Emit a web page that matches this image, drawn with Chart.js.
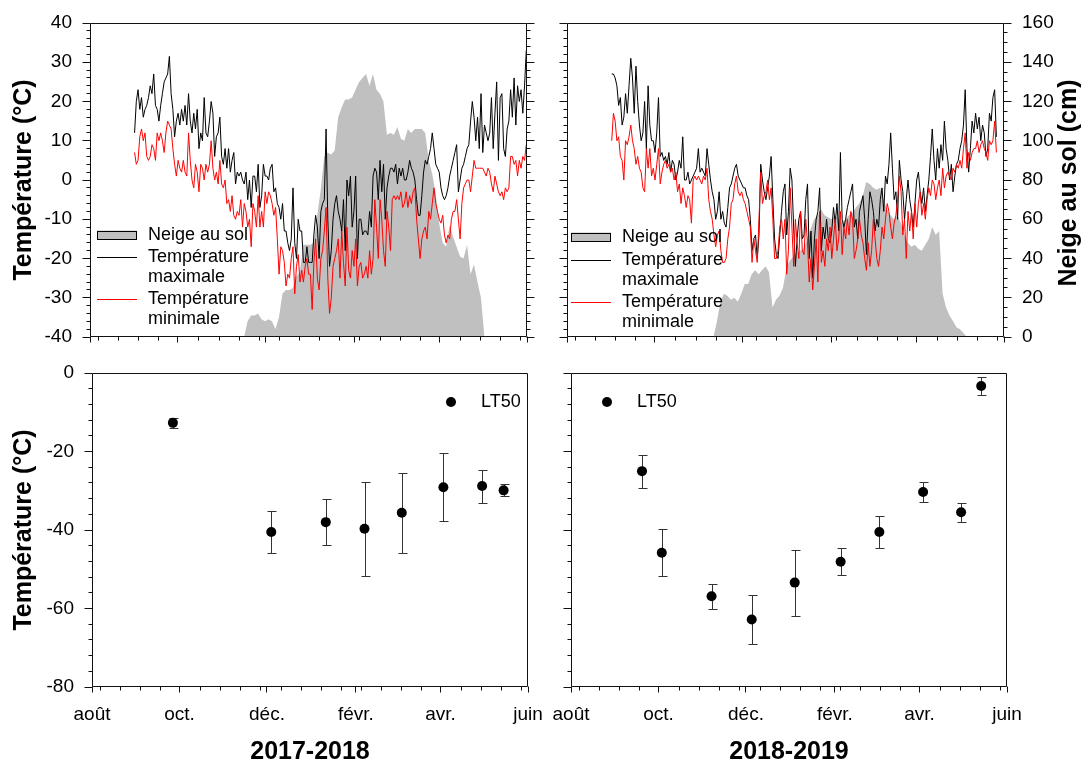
<!DOCTYPE html>
<html lang="fr">
<head>
<meta charset="utf-8">
<title>Température, neige au sol et LT50</title>
<script src="https://cdn.jsdelivr.net/npm/chart.js@4.4.1/dist/chart.umd.min.js"></script>
<style>
  html, body { margin:0; padding:0; background:#fff; }
  #page { position:relative; width:1090px; height:765px; overflow:hidden; background:#fff; }
  #page canvas { position:absolute; left:0; top:0; }
</style>
</head>
<body>
<div id="page">
  <canvas id="top2017" width="1090" height="765"></canvas>
  <canvas id="top2018" width="1090" height="765"></canvas>
  <canvas id="lt2017" width="1090" height="765"></canvas>
  <canvas id="lt2018" width="1090" height="765"></canvas>
</div>
<script>
// ---------------- DATA (days counted from 1 August) ----------------
const MONTH_TICK_DAYS = [0, 61, 122, 184, 243, 304];
const MONTH_TICK_LABELS = ['août', 'oct.', 'déc.', 'févr.', 'avr.', 'juin'];

// 2017-2018 : daily max / min air temperature (°C), 1 Sept -> 31 May
const TEMP_2017_FIRST_DAY = 31, TEMP_2017_LAST_DAY = 303.5;
const tmax2017 = [12,20,23,18,21,16,18,19,21,24,22,27,19,
  18,15,19,22,25,26,27,31.5,22,18,11,15,17,14,18,15,19,14,22,15,
  12,17,13,18,8,12,10,21,12,11,15,20,17,6,11,12,16,6,4,8,3,8,2,5,7,-1,2,1,2,0,-1,2,-5,0,-7,1,1,-3,4,-7,-4,4,1,1,0,3,4,-3,-2,-6,-7,-10,-6,-13,-13,-16,-18,-15,-2,-16,-20,-10,-13,-13,-21,-21,-17,-21,-21,-21,-14,-9,-12,-20,-8,-6,-5,13,-10,-22,-18,-10,-6,-4,-8,-10,-13,-5,-18,0,-4,1,-12,-8,1,-20,-10,-10,-14,-13,-13,-14,-8,-12,1,3,2,-5,5,-3,4,-10,-2,1,3,3,2,4,-1,3,1,3,0,0,2,5,3,2,0,-5,-9,-9,-4,2,5,4,6,8,12,8,4,3,2,-2,-4,-5,-4,-2,1,3,5,7,9,-3,0,3,4,6,8,9,15,20,16,10,16,8,22,7,14,12,10,12,21,8,17,25,5,21,22,8,6,13,15,23,16,26,14,24,20,23,17,24,33];
const tmin2017 = [7,4,5,11,13,10,12,6,5,6,9,8,5,12,10,12,10,7,12,15,14,13,8,4,1,5,3,2,5,2,1,12,5,0,-2,4,2,-3,4,3,0,4,2,4,10,3,0,2,-1,5,-1,-2,0,-6,-5,-8,-4,-9,-10,-8,-9,-5,-12,-6,-8,-12,-10,-17,-6,-8,-12,-4,-12,-8,-12,-3,-6,-3,-4,-6,-9,-7,-15,-24,-17,-18,-21,-27,-24,-25,-20,-17,-29,-22,-19,-26,-23,-26,-22,-20,-24,-24,-33,-21,-15,-25,-28,-20,-18,-13,-7,-25,-34,-30,-22,-20,-18,-15,-25,-13,-21,-27,-12,-23,-25,-18,-22,-15,-27,-22,-21,-25,-24,-22,-25,-18,-24,-20,-5,-12,-20,-5,-10,-18,-22,-8,-12,-18,-5,-4,-5,-4,-5,-3,-7,-6,-3,-7,-4,-6,-3,-2,-10,-15,-20,-15,-13,-12,-15,-8,-10,-6,-2,-6,-8,-10,-11,-9,-14,-16,-14,-15,-10,-8,-8,-5,-10,-15,-6,-2,-1,0,0,-3,1,5,3,3,3,3,3,2,1,3,2,-1,-3,1,-1,-3,-4,-3,-5,-2,-3,-2,6,6,4,5,1,5,3,6,5,9];
// 2017-2018 : snow on the ground (cm), mid-Nov -> early May
const SNOW_2017_FIRST_DAY = 107.2, SNOW_2017_LAST_DAY = 274.4;
const snow2017 = [0,8,11,11,12,9,8,9,8,4,10,22,24,24,25,31,33,47,47,47,48,62,75,92,94,93,95,112,117,121,121,122,126,130,132,134,128,134,126,124,120,103,104,103,107,101,100,106,104,106,106,106,104,90,83,73,58,48,46,57,51,46,41,40,47,32,37,28,20,0];

// 2018-2019 : daily max / min air temperature (°C), 1 Sept -> late May
const TEMP_2018_FIRST_DAY = 31.1, TEMP_2018_LAST_DAY = 298.7;
const tmax2018 = [27,27,26,24,19,21,14,16,22,17,24,31,26,17,29,20,14,10,12,20,8,24,14,10,10,7,12,21,6,7,5,6,4,7,2,5,4,0,2,5,3,11,0,0,2,-1,0,1,2,3,8,2,3,2,1,8,4,0,-3,-5,-10,-8,-3,-10,-8,-11,-12,-7,-2,-1,1,3,4,1,0,-1,-2,-2,-4,-5,-10,-18,-15,-14,-20,-14,4,0,-3,-5,-2,1,6,-5,-15,-19,-20,-14,-8,-3,-1,-14,-8,3,0,-12,-22,-15,-10,-8,-15,-14,-5,-1,-20,-13,-25,-15,-10,-8,-2,-18,-12,-15,-10,-15,-16,-13,-7,-11,-6,-13,7,-10,-12,-10,-7,-5,-3,-1,-12,-10,-15,-8,-6,-4,-10,-19,-10,-3,-5,-8,-13,-10,-12,-5,-2,-8,1,-1,4,12,3,-5,-3,-10,5,0,-3,-10,-5,0,-5,-8,-12,-6,0,2,-3,-6,-2,-8,-4,0,6,13,5,0,8,3,9,5,15,8,5,0,4,-3,1,4,5,8,10,14,23,8,2,8,15,12,17,13,16,10,14,12,6,8,17,15,21,23,11];
const tmin2018 = [10,17,15,10,11,6,5,0,10,9,11,14,10,8,4,6,3,2,-2,-3,8,3,8,1,3,0,4,8,-1,2,4,5,3,4,2,3,0,2,-3,-1,-6,-2,-4,-7,-4,-5,-11,0,1,0,1,0,-1,1,0,3,-5,-8,-10,-14,-17,-14,-13,-18,-21,-21,-20,-15,-12,-6,-5,-1,1,-3,-4,-3,-5,-6,-8,-10,-12,-21,-15,-18,-21,-10,2,-6,-4,-3,0,-5,-2,-10,-20,-20,-18,-12,-10,-15,-10,-24,-18,-2,-12,-22,-10,-16,-20,-8,-18,-19,-10,-16,-26,-20,-28,-22,-15,-26,-8,-21,-18,-22,-15,-18,-12,-20,-15,-10,-18,-15,-8,-19,-12,-15,-10,-14,-8,-10,-20,-18,-15,-10,-14,-16,-20,-23,-16,-22,-18,-10,-15,-20,-22,-18,-12,-15,-10,-6,-8,-12,-15,-11,-9,-5,1,-3,-14,-10,-20,-8,-13,-8,-15,-6,-12,-6,-3,-9,-6,-10,-5,-2,-4,0,-1,-5,-2,0,-4,3,-2,1,2,1,0,3,2,4,3,5,3,8,12,3,7,5,7,8,8,10,7,9,10,8,7,5,10,9,10,15,7];
// 2018-2019 : snow on the ground (cm)
const SNOW_2018_FIRST_DAY = 101.9, SNOW_2018_LAST_DAY = 278.2;
const snow2018 = [0,8,18,22,21,19,20,18,22,27,27,32,34,32,34,36,33,15,19,21,25,35,39,41,43,44,45,50,55,60,62,65,62,61,60,62,60,58,60,62,63,66,68,72,79,78,76,75,76,70,65,62,60,62,58,52,48,46,47,45,44,47,50,56,52,54,22,15,11,8,5,4,2,0];

// LT50 (°C) with error (±)
const lt50Days2017 = [56.4, 125, 163, 190, 216, 245, 272, 287];
const lt50Values2017 = [-12.7, -40.5, -38.0, -39.7, -35.6, -29.1, -28.8, -29.9];
const lt50Errors2017 = [1.2, 5.3, 5.8, 12.0, 10.2, 8.6, 4.2, 1.5];
const lt50Days2018 = [49.5, 63.3, 98, 126, 156, 188, 215, 245.5, 272, 286];
const lt50Values2018 = [-25.0, -45.8, -56.9, -62.8, -53.4, -48.1, -40.5, -30.3, -35.5, -3.3];
const lt50Errors2018 = [4.2, 6.0, 3.2, 6.2, 8.4, 3.4, 4.0, 2.6, 2.5, 2.2];

// ---------------- RENDERING ----------------
const FONT = '"Liberation Sans", Arial, Helvetica, sans-serif';
Chart.defaults.font.family = FONT;
Chart.defaults.font.size = 19;
Chart.defaults.color = '#000';

function sampled(values, firstDay, lastDay) {
  const step = (lastDay - firstDay) / (values.length - 1);
  return values.map((v, i) => ({ x: firstDay + i * step, y: v }));
}

const MINOR_TICK_FIRST = 5.8, MINOR_TICK_STEP = 14;

const frameTicks = {
  id: 'frameTicks',
  afterDraw(chart, args, o) {
    const ctx = chart.ctx, a = chart.chartArea;
    const px = v => Math.floor(v) + 0.5;
    const L = px(a.left), R = px(a.right - 1), T = px(a.top), B = px(a.bottom - 1);
    ctx.save();
    ctx.strokeStyle = '#111';
    ctx.lineWidth = 1;
    ctx.beginPath();
    ctx.rect(L, T, R - L, B - T);
    ctx.stroke();
    ctx.beginPath();
    (o.sides || []).forEach(s => {
      const sc = chart.scales[s.scale];
      const n = Math.round((s.max - s.min) / s.minor);
      for (let i = 0; i <= n; i++) {
        const v = s.min + i * s.minor;
        const major = Math.abs(v / s.major - Math.round(v / s.major)) < 1e-6;
        const len = major ? 8 : 4;
        const y = px(sc.getPixelForValue(v));
        if (s.side === 'left') { ctx.moveTo(L, y); ctx.lineTo(L - len, y); }
        else { ctx.moveTo(R, y); ctx.lineTo(R + len, y); }
      }
    });
    const xs = chart.scales.x;
    MONTH_TICK_DAYS.forEach(d => { const x = px(xs.getPixelForValue(d)); ctx.moveTo(x, B); ctx.lineTo(x, B + 6); });
    for (let d = MINOR_TICK_FIRST; d < 304; d += MINOR_TICK_STEP) {
      if (MONTH_TICK_DAYS.some(m => Math.abs(m - d) < 2)) continue;
      const x = px(xs.getPixelForValue(d)); ctx.moveTo(x, B); ctx.lineTo(x, B + 4);
    }
    ctx.stroke();
    if (o.rightTitle) {
      ctx.translate(a.right + o.rightTitle.offset, (a.top + a.bottom) / 2 + 3);
      ctx.rotate(-Math.PI / 2);
      ctx.font = 'bold 25px ' + FONT;
      ctx.fillStyle = '#000';
      ctx.textAlign = 'center';
      ctx.textBaseline = 'middle';
      ctx.fillText(o.rightTitle.text, 0, 0);
    }
    ctx.restore();
  }
};

const boxLegend = {
  id: 'boxLegend',
  afterDraw(chart, args, o) {
    if (!o.items) return;
    const ctx = chart.ctx, a = chart.chartArea;
    ctx.save();
    ctx.font = '18px ' + FONT;
    ctx.textBaseline = 'middle';
    ctx.textAlign = 'left';
    o.items.forEach(it => {
      const ds = chart.data.datasets[it.dataset];
      const x = a.left + o.x, y = a.top + it.y;
      if (it.symbol === 'box') {
        ctx.fillStyle = ds.backgroundColor;
        ctx.fillRect(x, y - 4.5, o.symbolWidth, 9);
        ctx.strokeStyle = '#000'; ctx.lineWidth = 1;
        ctx.strokeRect(Math.round(x) + 0.5, Math.round(y - 4.5) + 0.5, o.symbolWidth - 1, 8);
      } else if (it.symbol === 'line') {
        ctx.strokeStyle = ds.borderColor; ctx.lineWidth = 1;
        ctx.beginPath();
        ctx.moveTo(x, Math.round(y) + 0.5); ctx.lineTo(x + o.symbolWidth, Math.round(y) + 0.5);
        ctx.stroke();
      } else if (it.symbol === 'dot') {
        ctx.fillStyle = ds.pointBackgroundColor;
        ctx.beginPath(); ctx.arc(x + o.symbolWidth / 2, y, 5, 0, Math.PI * 2); ctx.fill();
      }
      ctx.fillStyle = '#000';
      it.text.forEach((t, k) => ctx.fillText(t, a.left + o.textX, y + k * 20));
    });
    ctx.restore();
  }
};

const errorBars = {
  id: 'errorBars',
  beforeDatasetsDraw(chart) {
    const ctx = chart.ctx, xs = chart.scales.x, ys = chart.scales.y;
    ctx.save();
    ctx.strokeStyle = '#333';
    ctx.lineWidth = 1;
    chart.data.datasets.forEach(ds => {
      if (!ds.errors) return;
      ds.data.forEach((p, i) => {
        const e = ds.errors[i];
        const x = Math.round(xs.getPixelForValue(p.x)) + 0.5;
        const yHi = Math.round(ys.getPixelForValue(p.y + e)) + 0.5;
        const yLo = Math.round(ys.getPixelForValue(p.y - e)) + 0.5;
        ctx.beginPath();
        ctx.moveTo(x, yHi); ctx.lineTo(x, yLo);
        ctx.moveTo(x - 4, yHi); ctx.lineTo(x + 5, yHi);
        ctx.moveTo(x - 4, yLo); ctx.lineTo(x + 5, yLo);
        ctx.stroke();
      });
    });
    ctx.restore();
  }
};

const hiddenGrid = { display: false, drawTicks: false };
const noBorder = { display: false };
function fixWidth(w) { return s => { s.width = w; s.paddingTop = 0; s.paddingBottom = 0; }; }
function fixHeight(h) { return s => { s.height = h; s.paddingLeft = 0; s.paddingRight = 0; }; }

function temperatureChart(id, c) {
  return new Chart(document.getElementById(id), {
    type: 'line',
    data: {
      datasets: [
        { label: 'Température minimale', data: sampled(c.tmin, c.tFirst, c.tLast), borderColor: '#ff0000',
          borderWidth: 1, pointRadius: 0, tension: 0, yAxisID: 'y', order: 0 },
        { label: 'Température maximale', data: sampled(c.tmax, c.tFirst, c.tLast), borderColor: '#000000',
          borderWidth: 1, pointRadius: 0, tension: 0, yAxisID: 'y', order: 1 },
        { label: 'Neige au sol', data: sampled(c.snow, c.sFirst, c.sLast), borderColor: 'rgba(0,0,0,0)',
          backgroundColor: '#c0c0c0', borderWidth: 0, pointRadius: 0, tension: 0, fill: 'origin',
          yAxisID: 'y2', order: 2 }
      ]
    },
    options: {
      responsive: false, animation: false, devicePixelRatio: 1,
      layout: { padding: c.padding, autoPadding: false },
      plugins: {
        legend: { display: false }, tooltip: { enabled: false },
        frameTicks: { sides: c.sides, rightTitle: c.rightTitle },
        boxLegend: {
          x: c.legendX, symbolWidth: 40, textX: c.legendTextX,
          items: [
            { dataset: 2, symbol: 'box', y: c.legendY[0], text: ['Neige au sol'] },
            { dataset: 1, symbol: 'line', y: c.legendY[1], text: ['Température', 'maximale'] },
            { dataset: 0, symbol: 'line', y: c.legendY[2], text: ['Température', 'minimale'] }
          ]
        }
      },
      scales: {
        x: { type: 'linear', position: 'bottom', min: 0, max: 304, grid: hiddenGrid, border: noBorder,
             ticks: { display: false }, afterFit: fixHeight(0) },
        y: { type: 'linear', position: 'left', min: -40, max: 40, grid: hiddenGrid, border: noBorder,
             ticks: { display: c.leftLabels, stepSize: 10, padding: 18 },
             title: { display: c.leftLabels, text: 'Température (°C)', font: { size: 25, weight: 'bold' }, padding: { top: 9, bottom: 0 } },
             afterFit: fixWidth(c.leftWidth) },
        y2: { type: 'linear', position: 'right', min: 0, max: 160, grid: hiddenGrid, border: noBorder,
              ticks: { display: c.rightLabels, stepSize: 20, padding: 18 },
              afterFit: fixWidth(c.rightWidth) }
      }
    },
    plugins: [frameTicks, boxLegend]
  });
}

function lt50Chart(id, c) {
  return new Chart(document.getElementById(id), {
    type: 'scatter',
    data: {
      datasets: [{
        label: 'LT50', data: c.days.map((d, i) => ({ x: d, y: c.values[i] })), errors: c.errors,
        pointRadius: 5, pointBackgroundColor: '#000', pointBorderColor: '#000', pointBorderWidth: 0, showLine: false
      }]
    },
    options: {
      responsive: false, animation: false, devicePixelRatio: 1,
      layout: { padding: c.padding, autoPadding: false },
      plugins: {
        legend: { display: false }, tooltip: { enabled: false },
        frameTicks: { sides: [{ scale: 'y', side: 'left', min: -80, max: 0, major: 20, minor: 4 }] },
        boxLegend: { x: c.legendX, symbolWidth: 10, textX: c.legendTextX,
          items: [{ dataset: 0, symbol: 'dot', y: 29, text: ['LT50'] }] }
      },
      scales: {
        x: { type: 'linear', position: 'bottom', min: 0, max: 304, grid: hiddenGrid, border: noBorder,
             afterBuildTicks: s => { s.ticks = MONTH_TICK_DAYS.map(v => ({ value: v })); },
             ticks: { autoSkip: false, maxRotation: 0, minRotation: 0, padding: 16,
                      callback: (v, i) => MONTH_TICK_LABELS[i] },
             title: { display: true, text: c.season, font: { size: 25, weight: 'bold' }, padding: { top: 0, bottom: -2 } },
             afterFit: fixHeight(78) },
        y: { type: 'linear', position: 'left', min: -80, max: 0, grid: hiddenGrid, border: noBorder,
             ticks: { display: c.leftLabels, stepSize: 20, padding: 18 },
             title: { display: c.leftLabels, text: 'Température (°C)', font: { size: 25, weight: 'bold' }, padding: { top: 9, bottom: 0 } },
             afterFit: fixWidth(c.leftWidth) }
      }
    },
    plugins: [frameTicks, boxLegend, errorBars]
  });
}

const tempSides = [
  { scale: 'y', side: 'left', min: -40, max: 40, major: 10, minor: 2 }
];

temperatureChart('top2017', {
  tmax: tmax2017, tmin: tmin2017, snow: snow2017,
  tFirst: TEMP_2017_FIRST_DAY, tLast: TEMP_2017_LAST_DAY, sFirst: SNOW_2017_FIRST_DAY, sLast: SNOW_2017_LAST_DAY,
  padding: { left: 0, top: 23, right: 563, bottom: 428 },
  leftLabels: true, leftWidth: 90, rightLabels: false, rightWidth: 0,
  sides: [tempSides[0], { scale: 'y', side: 'right', min: -40, max: 40, major: 10, minor: 2 }],
  legendX: 7, legendTextX: 58, legendY: [212, 234, 276]
});

temperatureChart('top2018', {
  tmax: tmax2018, tmin: tmin2018, snow: snow2018,
  tFirst: TEMP_2018_FIRST_DAY, tLast: TEMP_2018_LAST_DAY, sFirst: SNOW_2018_FIRST_DAY, sLast: SNOW_2018_LAST_DAY,
  padding: { left: 567, top: 23, right: 0, bottom: 428 },
  leftLabels: false, leftWidth: 0, rightLabels: true, rightWidth: 86,
  sides: [tempSides[0], { scale: 'y2', side: 'right', min: 0, max: 160, major: 20, minor: 5 }],
  rightTitle: { text: 'Neige au sol (cm)', offset: 65 },
  legendX: 4, legendTextX: 55, legendY: [214, 237, 279]
});

lt50Chart('lt2017', {
  days: lt50Days2017, values: lt50Values2017, errors: lt50Errors2017, season: '2017-2018',
  padding: { left: 0, top: 373, right: 562, bottom: 0 },
  leftLabels: true, leftWidth: 92, legendX: 354, legendTextX: 389
});

lt50Chart('lt2018', {
  days: lt50Days2018, values: lt50Values2018, errors: lt50Errors2018, season: '2018-2019',
  padding: { left: 571, top: 373, right: 83, bottom: 0 },
  leftLabels: false, leftWidth: 0, legendX: 31, legendTextX: 66
});
</script>
</body>
</html>
